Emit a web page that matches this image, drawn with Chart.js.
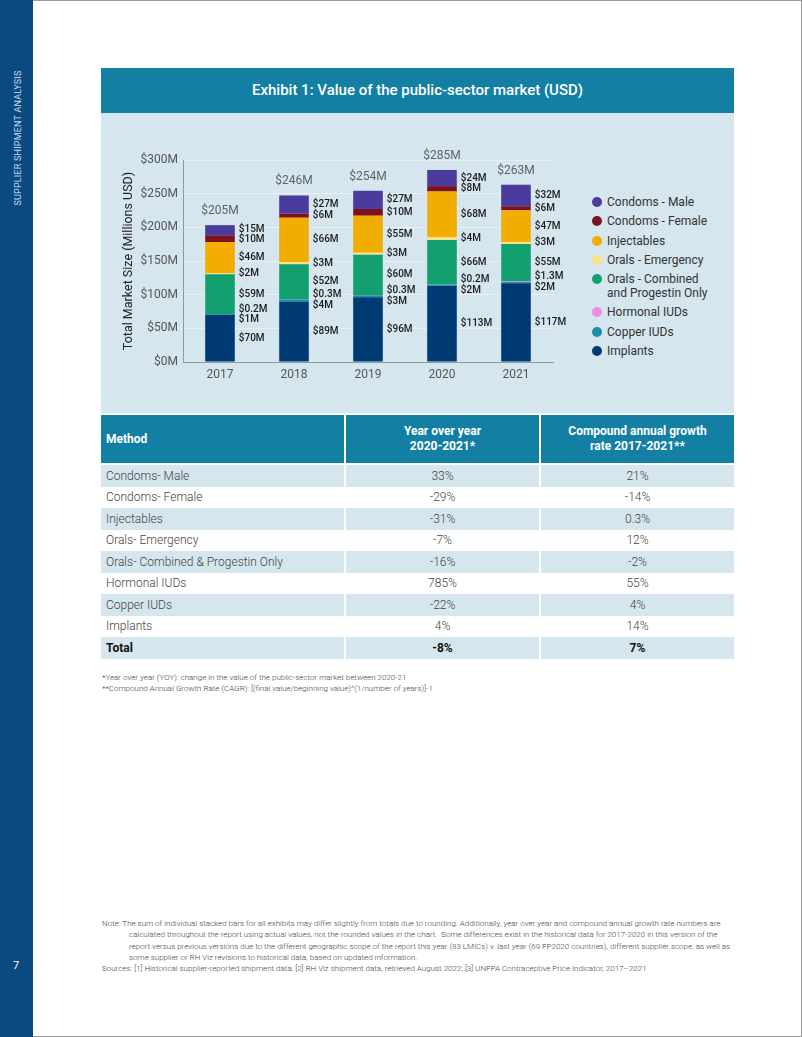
<!DOCTYPE html>
<html>
<head>
<meta charset="utf-8">
<script src="https://cdn.jsdelivr.net/npm/chart.js@4"></script>
<style>
  html, body { margin: 0; padding: 0; }
  body { width: 802px; height: 1037px; position: relative; background: #fff; font-family: Roboto, sans-serif; overflow: hidden; }
  .frame { position: absolute; left: 0; top: 0; width: 800px; height: 1035px; border: 1px solid #9a9a9a; }
  .side { position: absolute; left: 0; top: 0; width: 33px; height: 1037px; background: #0b4a80; }
  .side-text { position: absolute; left: 18px; top: 138px; transform: translate(-50%, -50%) rotate(-90deg); white-space: nowrap; color: #c9dcee; font-size: 9px; letter-spacing: 0.2px; }
  .page-no { position: absolute; left: 13px; top: 959px; color: #fff; font-size: 11px; }
  .title { position: absolute; left: 101px; top: 68px; width: 633px; height: 45px; background: #1380a3; color: #fff; font-size: 15px; font-weight: 500; text-align: center; line-height: 45px; }
  .panel { position: absolute; left: 101px; top: 113px; width: 633px; height: 300px; background: #d5e6ee; }
  #chart-wrap { position: absolute; left: 101px; top: 113px; width: 470px; height: 297px; }
  .legend { position: absolute; left: 592px; top: 195px; font-size: 12px; color: #333; }
  .legend div { position: relative; padding-left: 15px; line-height: 14px; margin-bottom: 5.3px; }
  .legend span { position: absolute; left: 0; top: 2px; width: 10px; height: 10px; border-radius: 50%; }
  table { position: absolute; left: 101px; top: 415px; width: 633px; border-collapse: collapse; font-size: 12px; table-layout: fixed; }
  th { background: #1380a3; color: #fff; font-weight: 700; height: 48px; border: 2px solid #fff; border-top: 0; padding: 0; line-height: 15px; }
  th:first-child { text-align: left; padding-left: 5px; border-left: 0; }
  th:last-child { border-right: 0; }
  td { height: 21.5px; padding: 0; border-left: 2px solid #fff; border-right: 2px solid #fff; text-align: center; color: #444; font-weight: 300; }
  td:first-child { text-align: left; padding-left: 5px; border-left: 0; }
  td:last-child { border-right: 0; }
  tr:nth-child(odd) td { background: #d5e6ee; }
  tr.total td { font-weight: 700; color: #111; }
  .foot { position: absolute; left: 102px; top: 672px; font-size: 8px; color: #444; line-height: 11px; font-weight: 300; }
  .note { position: absolute; left: 102px; top: 918px; width: 634px; font-size: 8px; color: #444; line-height: 11.3px; font-weight: 300; padding-left: 27px; text-indent: -27px; box-sizing: border-box; }
  .src { position: absolute; left: 102px; top: 964px; font-size: 8px; color: #444; font-weight: 300; }
</style>
</head>
<body>
<div class="frame"></div>
<div class="side"><div class="side-text">SUPPLIER SHIPMENT ANALYSIS</div><div class="page-no">7</div></div>
<div class="title">Exhibit 1: Value of the public-sector market (USD)</div>
<div class="panel"></div>
<div id="chart-wrap"><canvas id="market-chart"></canvas></div>
<div class="legend" id="legend"></div>

<table>
  <colgroup><col style="width:244px"><col style="width:195px"><col></colgroup>
  <thead>
    <tr><th>Method</th><th>Year over year<br>2020-2021*</th><th>Compound annual growth<br>rate 2017-2021**</th></tr>
  </thead>
  <tbody id="tbody"></tbody>
</table>

<div class="foot">*Year over year (YOY): change in the value of the public-sector market between 2020-21<br>**Compound Annual Growth Rate (CAGR): [(final value/beginning value)^(1/number of years)]-1</div>
<div class="note">Note: The sum of individual stacked bars for all exhibits may differ slightly from totals due to rounding. Additionally, year over year and compound annual growth rate numbers are calculated throughout the report using actual values, not the rounded values in the chart.&nbsp; Some differences exist in the historical data for 2017-2020 in this version of the report versus previous versions due to the different geographic scope of the report this year (83 LMICs) v. last year (69 FP2020 countries), different supplier scope, as well as some supplier or RH Viz revisions to historical data, based on updated information.</div>
<div class="src">Sources: [1] Historical supplier-reported shipment data; [2] RH Viz shipment data, retrieved August 2022; [3] UNFPA Contraceptive Price Indicator, 2017–2021</div>

<script>
const years = ["2017", "2018", "2019", "2020", "2021"];
const totals = [205, 246, 254, 285, 263];

// stacked bottom to top
const implants = [70, 89, 96, 113, 117];
const copperIUDs = [1, 4, 3, 2, 2];
const hormonalIUDs = [0.2, 0.3, 0.3, 0.2, 1.3];
const oralsCombined = [59, 52, 60, 66, 55];
const oralsEmergency = [2, 3, 3, 4, 3];
const injectables = [46, 66, 55, 68, 47];
const condomsFemale = [10, 6, 10, 8, 6];
const condomsMale = [15, 27, 27, 24, 32];

const tableMethods = ["Condoms- Male", "Condoms- Female", "Injectables", "Orals- Emergency",
  "Orals- Combined & Progestin Only", "Hormonal IUDs", "Copper IUDs", "Implants", "Total"];
const tableYoY = ["33%", "-29%", "-31%", "-7%", "-16%", "785%", "-22%", "4%", "-8%"];
const tableCAGR = ["21%", "-14%", "0.3%", "12%", "-2%", "55%", "4%", "14%", "7%"];

const series = [
  { label: "Implants", data: implants, color: "#003a72" },
  { label: "Copper IUDs", data: copperIUDs, color: "#1d8ea9" },
  { label: "Hormonal IUDs", data: hormonalIUDs, color: "#f28ce6" },
  { label: "Orals - Combined|and Progestin Only", data: oralsCombined, color: "#12a06f" },
  { label: "Orals - Emergency", data: oralsEmergency, color: "#fde08c" },
  { label: "Injectables", data: injectables, color: "#f1ad00" },
  { label: "Condoms - Female", data: condomsFemale, color: "#7d1120" },
  { label: "Condoms - Male", data: condomsMale, color: "#4b3b9c" },
];

// legend, top to bottom
const legend = document.getElementById("legend");
series.slice().reverse().forEach(s => {
  const d = document.createElement("div");
  d.innerHTML = '<span style="background:' + s.color + '"></span>' + s.label.replace("|", "<br>");
  legend.appendChild(d);
});

// table
const tbody = document.getElementById("tbody");
tableMethods.forEach((m, i) => {
  const tr = document.createElement("tr");
  if (m === "Total") tr.className = "total";
  tr.innerHTML = "<td>" + m + "</td><td>" + tableYoY[i] + "</td><td>" + tableCAGR[i] + "</td>";
  tbody.appendChild(tr);
});

const fmt = v => "$" + v + "M";

const barLabels = {
  id: "barLabels",
  afterDatasetsDraw(chart) {
    const ctx = chart.ctx;
    ctx.save();
    ctx.textBaseline = "middle";
    years.forEach((yr, i) => {
      let items = [];
      let top = Infinity, cx = 0, right = 0;
      chart.data.datasets.forEach((ds, d) => {
        const el = chart.getDatasetMeta(d).data[i];
        items.push({ y: (el.y + el.base) / 2, text: fmt(ds.data[i]) });
        top = Math.min(top, el.y);
        cx = el.x;
        right = el.x + el.width / 2;
      });
      items.sort((a, b) => b.y - a.y);
      const gap = 10.5;
      for (let it = 0; it < 60; it++) {
        for (let k = 0; k < items.length - 1; k++) {
          const a = items[k], b = items[k + 1];
          const diff = a.y - b.y;
          if (diff < gap) {
            const s = (gap - diff) / 2;
            a.y += s;
            b.y -= s;
          }
        }
      }
      ctx.font = "500 10px Roboto";
      ctx.fillStyle = "#1b1b1b";
      ctx.textAlign = "left";
      items.forEach(o => ctx.fillText(o.text, right + 4, o.y));

      ctx.font = "400 12px Roboto";
      ctx.fillStyle = "#5f6468";
      ctx.textAlign = "center";
      ctx.fillText(fmt(totals[i]), cx, top - 14);
    });
    ctx.restore();
  }
};

new Chart(document.getElementById("market-chart"), {
  type: "bar",
  data: {
    labels: years,
    datasets: series.map(s => ({
      label: s.label,
      data: s.data,
      backgroundColor: s.color,
      borderWidth: 0,
      barPercentage: 0.4,
      categoryPercentage: 1,
    })),
  },
  options: {
    responsive: true,
    maintainAspectRatio: false,
    animation: false,
    events: [],
    plugins: {
      legend: false,
      tooltip: { enabled: false },
    },
    layout: {
      padding: { left: 20, right: 18, top: 47, bottom: 26 },
    },
    scales: {
      x: {
        stacked: true,
        grid: { display: false, drawTicks: false },
        border: { color: "#8d9aa1" },
        ticks: { color: "#555", font: { family: "Roboto", size: 12 }, padding: 6 },
        afterFit: s => { s.height = 22; },
      },
      y: {
        stacked: true,
        min: 0,
        max: 300,
        ticks: {
          stepSize: 50,
          color: "#555",
          padding: 5,
          font: { family: "Roboto", size: 12 },
          callback: v => "$" + v + "M",
        },
        grid: { color: "rgba(255,255,255,0.45)", drawTicks: false },
        border: { color: "#8d9aa1" },
        title: {
          display: true,
          text: "Total Market Size (Millions USD)",
          color: "#222",
          font: { family: "Roboto", size: 12.5 },
          padding: { top: 0, bottom: 0 },
        },
        afterFit: s => { s.width = 62; },
      },
    },
  },
  plugins: [barLabels],
});
</script>
</body>
</html>
